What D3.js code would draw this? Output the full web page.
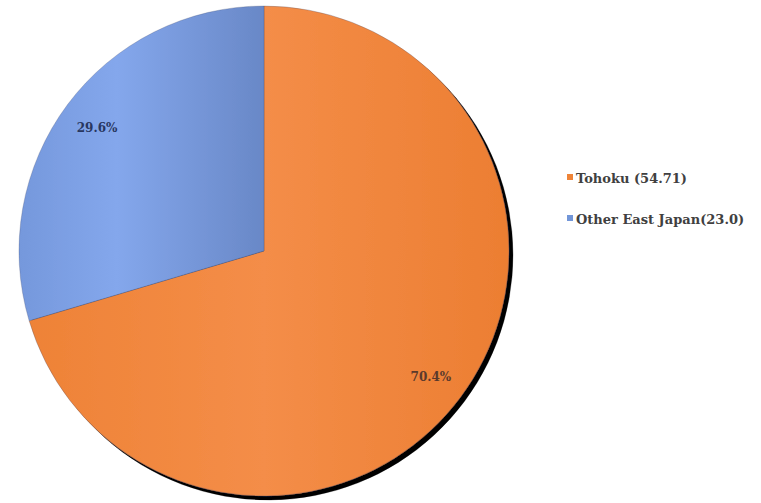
<!DOCTYPE html>
<html>
<head>
<meta charset="utf-8">
<script src="https://cdn.jsdelivr.net/npm/d3@7"></script>
<style>
  body { margin: 0; background: #fff; }
</style>
</head>
<body>
<div id="chart"></div>
<script>
// chart data
const regions = ["Tohoku", "Other East Japan"];
const values = [54.71, 23.0];
const legendLabels = ["Tohoku (54.71)", "Other East Japan(23.0)"];
const colors = ["#ef8438", "#7296d8"];
const labelColors = ["#5a3a2c", "#28365f"];

const width = 761, height = 503;
const cx = 264, cy = 251, radius = 245;
const serif = "'DejaVu Serif', serif";

let svg = d3.select("#chart")
    .append("svg")
    .attr("width", width)
    .attr("height", height);

let defs = svg.append("defs");

// dark shadow to the lower right
let shadow = defs.append("filter")
    .attr("id", "shadow")
    .attr("x", "-10%").attr("y", "-10%")
    .attr("width", "120%").attr("height", "120%");
shadow.append("feGaussianBlur").attr("in", "SourceAlpha").attr("stdDeviation", 0.7).attr("result", "b");
shadow.append("feOffset").attr("in", "b").attr("dx", 4).attr("dy", 3.5).attr("result", "o");
let merge = shadow.append("feMerge");
merge.append("feMergeNode").attr("in", "o");
merge.append("feMergeNode").attr("in", "SourceGraphic");

// horizontal gradients per slice (coords local to the pie group)
let gradOrange = defs.append("linearGradient")
    .attr("id", "g0").attr("gradientUnits", "userSpaceOnUse")
    .attr("x1", -radius).attr("y1", 0).attr("x2", radius).attr("y2", 0);
gradOrange.append("stop").attr("offset", 0).attr("stop-color", "#ee8236");
gradOrange.append("stop").attr("offset", 0.5).attr("stop-color", "#f48d48");
gradOrange.append("stop").attr("offset", 1).attr("stop-color", "#ec7e32");

let gradBlue = defs.append("linearGradient")
    .attr("id", "g1").attr("gradientUnits", "userSpaceOnUse")
    .attr("x1", -radius).attr("y1", 0).attr("x2", 0).attr("y2", 0);
gradBlue.append("stop").attr("offset", 0).attr("stop-color", "#7598dc");
gradBlue.append("stop").attr("offset", 0.4).attr("stop-color", "#84a7ec");
gradBlue.append("stop").attr("offset", 1).attr("stop-color", "#6988c7");

let pie = d3.pie().sort(null)(values);
let arc = d3.arc().innerRadius(0).outerRadius(radius);
let labelArc = d3.arc().innerRadius(radius * 0.85).outerRadius(radius * 0.85);

let g = svg.append("g")
    .attr("transform", "translate(" + cx + "," + cy + ")");

g.append("g")
    .attr("filter", "url(#shadow)")
    .selectAll("path")
    .data(pie)
    .join("path")
    .attr("d", arc)
    .attr("fill", (d, i) => "url(#g" + i + ")")
    .attr("stroke", "rgba(60,70,110,0.45)")
    .attr("stroke-width", 0.6);

// percentage labels
const total = d3.sum(values);
g.selectAll("text.pct")
    .data(pie)
    .join("text")
    .attr("class", "pct")
    .attr("transform", d => "translate(" + labelArc.centroid(d) + ")")
    .attr("text-anchor", "middle")
    .attr("dy", "0.45em")
    .attr("font-family", serif)
    .attr("font-weight", "bold")
    .attr("font-size", 12)
    .attr("fill", (d, i) => labelColors[i])
    .text(d => (d.value / total * 100).toFixed(1) + "%");

// legend
let legend = svg.append("g").attr("transform", "translate(567,0)");
let items = legend.selectAll("g")
    .data(legendLabels)
    .join("g")
    .attr("transform", (d, i) => "translate(0," + (177 + i * 41) + ")");
items.append("rect")
    .attr("x", 0).attr("y", -3)
    .attr("width", 6).attr("height", 6)
    .attr("fill", (d, i) => colors[i]);
items.append("text")
    .attr("x", 9)
    .attr("y", 6)
    .attr("font-family", serif)
    .attr("font-weight", "bold")
    .attr("font-size", 13)
    .attr("fill", "#404040")
    .text(d => d);
</script>
</body>
</html>
